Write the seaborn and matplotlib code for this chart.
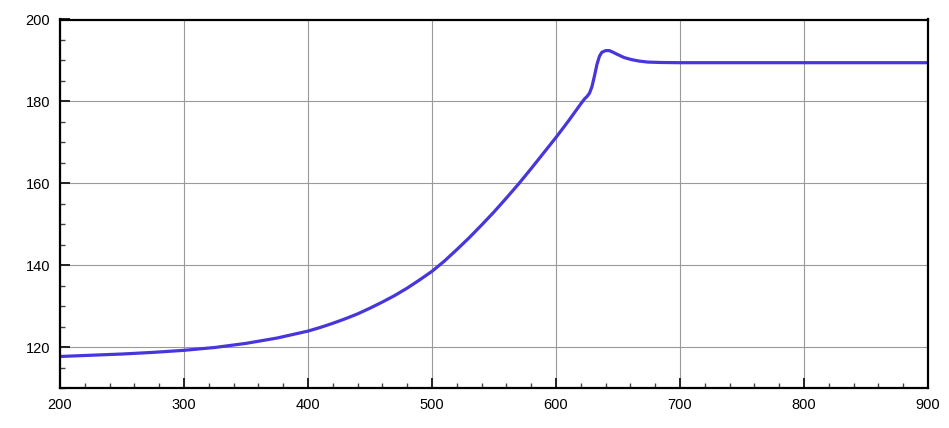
import matplotlib
matplotlib.use("Agg")
import matplotlib.pyplot as plt
from matplotlib.ticker import MultipleLocator
import seaborn as sns
import pandas as pd

x_vals = [200, 225, 250, 275, 300, 325, 350, 375, 400, 410, 420, 430, 440,
          450, 460, 470, 480, 490, 500, 510, 520, 530, 540, 550, 560, 570,
          580, 590, 600, 610, 620, 623, 625, 627, 629, 631, 633, 635, 637,
          640, 643, 646, 650, 655, 661, 667, 674, 685, 700, 800, 900]
y_vals = [117.7, 118.0, 118.3, 118.7, 119.2, 119.9, 120.9, 122.2, 123.9, 124.8,
          125.8, 126.9, 128.1, 129.5, 131.0, 132.6, 134.4, 136.4, 138.5, 141.0,
          143.8, 146.7, 149.8, 153.0, 156.4, 159.9, 163.6, 167.4, 171.2, 175.2,
          179.4, 180.6, 181.2, 182.0, 183.6, 186.2, 189.0, 191.0, 192.0, 192.4,
          192.4, 192.0, 191.4, 190.7, 190.2, 189.85, 189.6, 189.5, 189.45,
          189.45, 189.45]

df = pd.DataFrame({"x": x_vals, "y": y_vals})

sns.set_style("ticks")
plt.rcParams["font.family"] = ["Liberation Sans", "DejaVu Sans"]

fig = plt.figure(figsize=(9.49, 4.28), dpi=100)
ax = fig.add_axes([60 / 949, 1 - 388 / 428, (928 - 60) / 949, (388 - 19.5) / 428])

sns.lineplot(data=df, x="x", y="y", ax=ax, color="#4636DB", linewidth=2.3)

ax.set_xlim(200, 900)
ax.set_ylim(110, 200)
ax.xaxis.set_major_locator(MultipleLocator(100))
ax.xaxis.set_minor_locator(MultipleLocator(20))
ax.yaxis.set_major_locator(MultipleLocator(20))
ax.yaxis.set_minor_locator(MultipleLocator(5))

ax.grid(True, which="major", color="#9a9a9a", linewidth=0.8)
ax.set_axisbelow(True)
ax.tick_params(which="major", direction="in", length=7, width=1.4, color="#222222",
               labelsize=10.5, labelcolor="black")
ax.tick_params(which="minor", direction="in", length=3.5, width=1.0, color="#444444")
ax.tick_params(axis="x", which="major", pad=7)
ax.tick_params(axis="y", which="major", pad=7)

for s in ax.spines.values():
    s.set_visible(True)
    s.set_linewidth(1.6)
    s.set_color("black")

ax.set_xlabel("")
ax.set_ylabel("")

fig.savefig("out.png", dpi=100)
